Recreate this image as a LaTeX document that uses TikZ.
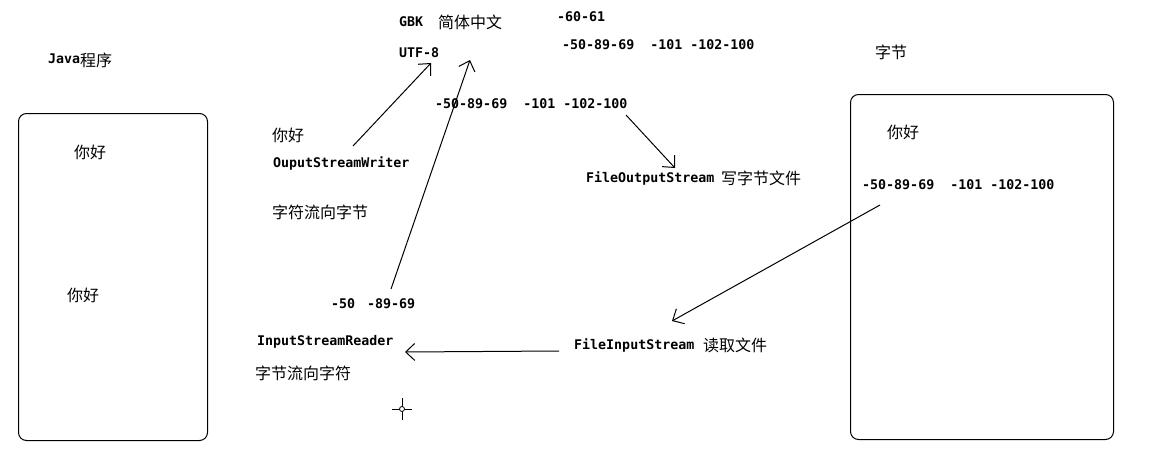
\documentclass[tikz,border=0pt]{standalone}
\usepackage{fontspec}
\usetikzlibrary{arrows.meta}
\newfontfamily\latf[Scale=1]{DejaVu Sans Mono Bold}
\newfontfamily\cjkf{Noto Sans CJK SC}
\begin{document}
\begin{tikzpicture}[x=1pt,y=-1pt,
  lat/.style={anchor=west,inner sep=0pt,font=\fontsize{13.3}{14}\latf,text height=9.6pt,text depth=0pt},
  cjk/.style={anchor=west,inner sep=0pt,font=\fontsize{16}{18}\cjkf,text height=13.8pt,text depth=1.8pt},
  boxr/.style={draw,line width=1pt,rounded corners=8pt},
  arr/.style={line width=1pt,-{Straight Barb[length=9pt,width=17pt,line width=1pt]}}]
\useasboundingbox[fill=white] (0,0) rectangle (1149,461);
% boxes
\node[boxr,inner sep=0pt,minimum width=189pt,minimum height=327pt,anchor=north west] (prog) at (18,113) {};
\node[boxr,inner sep=0pt,minimum width=263pt,minimum height=345pt,anchor=north west] (file) at (850,94) {};
% left labels
\node[lat] (java) at (48,59) {Java};
\node[cjk] (javacn) at (80,60) {程序};
\node[cjk] (nh1) at (74,152) {你好};
\node[cjk] (nh2) at (67,295) {你好};
% right
\node[cjk] (zj) at (875,52) {字节};
\node[cjk] (nh3) at (887,132) {你好};
\node[lat] (rn) at (862,185) {-50-89-69~~-101~-102-100};
% top
\node[lat] (gbk) at (399,22) {GBK};
\node[cjk] (jtzw) at (438,22) {简体中文};
\node[lat] (g6061) at (557,17) {-60-61};
\node[lat] (utf) at (399,53) {UTF-8};
\node[lat] (topn) at (562,45) {-50-89-69~~-101~-102-100};
\node[lat] (midn) at (435,104) {-50-89-69~~-101~-102-100};
% writer
\node[cjk] (nh4) at (272,135) {你好};
\node[lat] (osw) at (273,163) {OuputStreamWriter};
\node[cjk] (zfl) at (272,212) {字符流向字节};
% reader
\node[lat] (n50) at (331,304) {-50};
\node[lat] (n8969) at (367,304) {-89-69};
\node[lat] (isr) at (257,341) {InputStreamReader};
\node[cjk] (zjl) at (255,373) {字节流向字符};
% file streams
\node[lat] (fos) at (586,178) {FileOutputStream};
\node[cjk] (fosc) at (721,178) {写字节文件};
\node[lat] (fis) at (574,345) {FileInputStream};
\node[cjk] (fisc) at (703,345) {读取文件};
% arrow end points
\coordinate (a1s) at (353,146);
\coordinate (a1e) at (431,63);
\coordinate (a2s) at (391,289);
\coordinate (a2e) at (470,60);
\coordinate (a3s) at (626,115);
\coordinate (a3e) at (675,168);
\coordinate (a4s) at (880,205);
\coordinate (a4e) at (672,321);
\coordinate (a5s) at (559,351);
\coordinate (a5e) at (405,352);
\draw[arr] (a1s) -- (a1e);
\draw[arr] (a2s) -- (a2e);
\draw[arr] (a3s) -- (a3e);
\draw[arr] (a4s) -- (a4e);
\draw[arr] (a5s) -- (a5e);
% crosshair
\coordinate (ch) at (402,409);
\draw[line width=1pt] ([xshift=-10pt]ch) -- ([xshift=10pt]ch) ([yshift=-11pt]ch) -- ([yshift=11pt]ch);
\draw[line width=0.8pt,fill=white] (ch) circle (2.5pt);
\end{tikzpicture}
\end{document}
